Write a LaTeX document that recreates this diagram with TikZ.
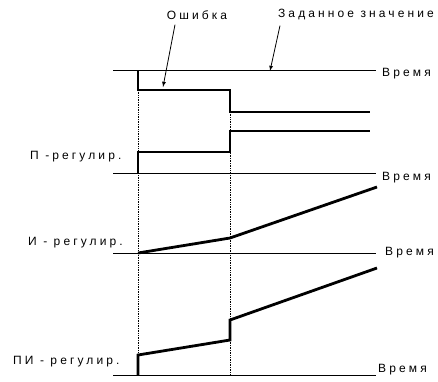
\documentclass[tikz,border=0pt]{standalone}
\usepackage{fontspec}
\setmainfont[LetterSpace=26]{Liberation Sans}
\usetikzlibrary{calc}

\begin{document}
\begin{tikzpicture}[x=1pt,y=-1pt]
\tikzstyle{axis}=[line width=0.9pt]
\tikzstyle{signal}=[line width=2.8pt]
\tikzstyle{lbl}=[inner sep=0pt, font=\fontsize{12}{14}\selectfont]
\useasboundingbox (0,0) rectangle (438,381);

% axes
\coordinate (eS) at (113,70);  \coordinate (eE) at (376,70);
\coordinate (pS) at (113,173); \coordinate (pE) at (376,173);
\coordinate (iS) at (113,253); \coordinate (iE) at (376,253);
\coordinate (piS) at (113,375); \coordinate (piE) at (376,375);

\draw[axis] (eS) -- (eE);
\draw[axis] (pS) -- (pE);
\draw[axis] (iS) -- (iE);
\draw[axis] (piS) -- (piE);

\node (tE) [lbl, anchor=west] at (382,74) {Время};
\node (tP) [lbl, anchor=west] at (382,178) {Время};
\node (tI) [lbl, anchor=west] at (385,253) {Время};
\node (tPI) [lbl, anchor=west] at (378,370) {Время};

\node (lP) [lbl, anchor=west] at (30,157) {П -регулир.};
\node (lI) [lbl, anchor=west] at (28,243) {И - регулир.};
\node (lPI) [lbl, anchor=west] at (13,362) {ПИ - регулир.};

% time marks
\coordinate (t1) at (138,90);
\coordinate (t2) at (230,112);
\draw[densely dotted, line width=0.7pt] (t1) -- (t1 |- piS);
\draw[densely dotted, line width=0.7pt] (t2) -- (t2 |- piS);

% error, P, I, PI
\draw[signal] (138,70) -- (t1) -- (230,90) -- (t2) -- (370,112);
\draw[signal] (138,173) -- (138,152) -- (230,152) -- (230,131) -- (370,131);
\draw[signal] (138,253) -- (230,238) -- (377,187);
\draw[signal] (138,375) -- (138,355) -- (230,340) -- (230,320) -- (377,268);

% annotations
\node (err) [lbl] at (197,15) {Ошибка};
\node (setp) [lbl] at (356,15) {Заданное значение};
\coordinate (errTip) at (163,87);
\coordinate (setTip) at (270,71);
\draw[-latex, line width=0.8pt] ($(err.south)+(-22,5)$) -- (errTip);
\draw[-latex, line width=0.8pt] ($(setp.south)+(-76,5)$) -- (setTip);

\end{tikzpicture}
\end{document}
